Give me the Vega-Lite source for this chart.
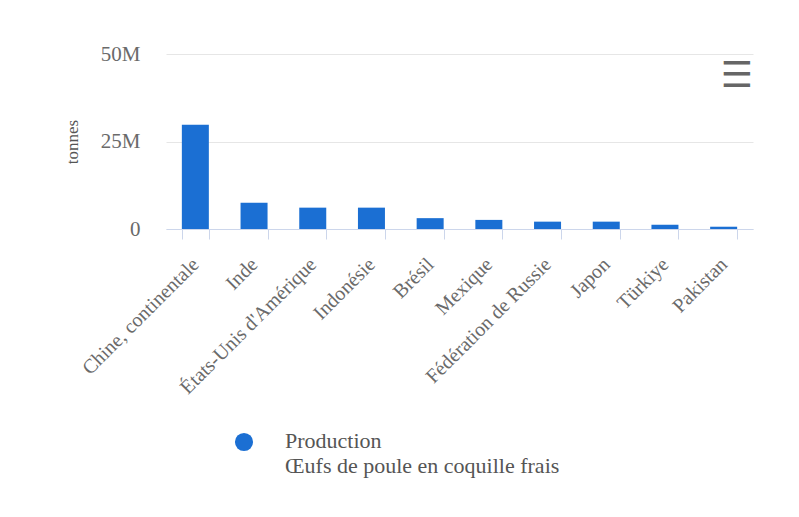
{
  "$schema": "https://vega.github.io/schema/vega-lite/v6.json",
  "autosize": "none",
  "width": 587,
  "height": 175,
  "padding": {"left": 166, "top": 54, "right": 46, "bottom": 288},
  "background": "white",
  "title": {
    "text": "☰",
    "anchor": "end",
    "orient": "top",
    "offset": -52,
    "fontSize": 36,
    "font": "DejaVu Sans",
    "color": "#666666",
    "fontWeight": "bold"
  },
  "data": {
    "values": [
      {"pays": "Chine, continentale", "valeur": 29800000, "serie": "Production|Œufs de poule en coquille frais"},
      {"pays": "Inde", "valeur": 7500000, "serie": "Production|Œufs de poule en coquille frais"},
      {"pays": "États-Unis d'Amérique", "valeur": 6100000, "serie": "Production|Œufs de poule en coquille frais"},
      {"pays": "Indonésie", "valeur": 6100000, "serie": "Production|Œufs de poule en coquille frais"},
      {"pays": "Brésil", "valeur": 3100000, "serie": "Production|Œufs de poule en coquille frais"},
      {"pays": "Mexique", "valeur": 2600000, "serie": "Production|Œufs de poule en coquille frais"},
      {"pays": "Fédération de Russie", "valeur": 2100000, "serie": "Production|Œufs de poule en coquille frais"},
      {"pays": "Japon", "valeur": 2100000, "serie": "Production|Œufs de poule en coquille frais"},
      {"pays": "Türkiye", "valeur": 1200000, "serie": "Production|Œufs de poule en coquille frais"},
      {"pays": "Pakistan", "valeur": 650000, "serie": "Production|Œufs de poule en coquille frais"}
    ]
  },
  "mark": {"type": "bar", "cornerRadius": 0},
  "encoding": {
    "x": {
      "field": "pays",
      "type": "nominal",
      "sort": null,
      "scale": {"paddingInner": 0.54, "paddingOuter": 0.27},
      "axis": {
        "title": null,
        "labelAngle": -45,
        "labelAlign": "right",
        "labelBaseline": "middle",
        "labelFont": "Liberation Serif",
        "labelFontSize": 20,
        "labelColor": "#6a6a6a",
        "labelPadding": 22,
        "labelLimit": 300,
        "tickBand": "extent",
        "tickSize": 10,
        "tickColor": "#ccd6eb",
        "domainColor": "#ccd6eb",
        "grid": false
      }
    },
    "y": {
      "field": "valeur",
      "type": "quantitative",
      "scale": {"domain": [0, 50000000], "nice": false},
      "axis": {
        "title": "tonnes",
        "titleFont": "Liberation Serif",
        "titleFontSize": 17,
        "titleFontWeight": "normal",
        "titleColor": "#555555",
        "titlePadding": 19,
        "values": [0, 25000000, 50000000],
        "labelExpr": "datum.value == 0 ? '0' : (datum.value / 1000000) + 'M'",
        "labelFont": "Liberation Serif",
        "labelFontSize": 21,
        "labelColor": "#6a6a6a",
        "labelPadding": 26,
        "domain": false,
        "ticks": false,
        "grid": true,
        "gridColor": "#e6e6e6"
      }
    },
    "color": {
      "field": "serie",
      "type": "nominal",
      "scale": {"range": ["#1b6fd3"]},
      "legend": {
        "title": null,
        "orient": "none",
        "legendX": 67,
        "legendY": 377,
        "symbolType": "circle",
        "symbolSize": 330,
        "symbolStrokeWidth": 0,
        "symbolOpacity": 1,
        "labelExpr": "split(datum.label, '|')",
        "labelFont": "Liberation Serif",
        "labelFontSize": 22,
        "labelColor": "#555555",
        "labelOffset": 30,
        "labelLimit": 500,
        "labelBaseline": "top",
        "encode": {
          "labels": {"update": {"lineHeight": {"value": 25}, "dy": {"value": -11}}}
        }
      }
    }
  },
  "config": {
    "view": {"stroke": null}
  }
}
